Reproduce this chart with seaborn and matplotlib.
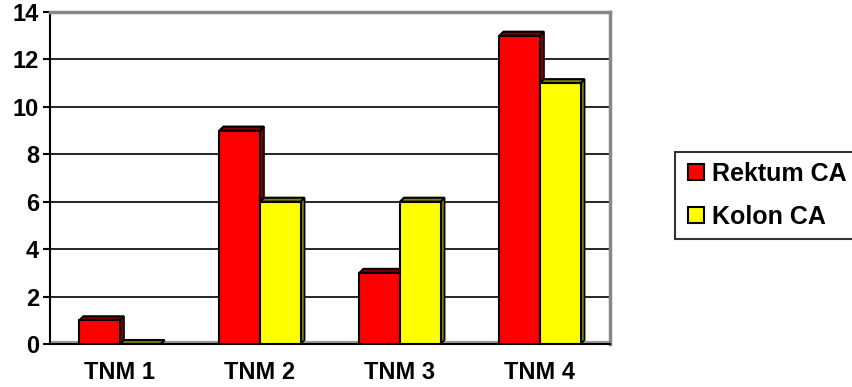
import numpy as np
import pandas as pd
import seaborn as sns
import matplotlib.pyplot as plt
from matplotlib.patches import Polygon
from matplotlib.lines import Line2D

categories = ['TNM 1', 'TNM 2', 'TNM 3', 'TNM 4']
series = ['Rektum CA', 'Kolon CA']
rektum = [1, 9, 3, 13]
kolon = [0, 6, 6, 11]

df = pd.DataFrame({
    'stage': categories * 2,
    'group': [series[0]] * 4 + [series[1]] * 4,
    'count': rektum + kolon,
})

sns.set_style('white')
plt.rcParams['font.family'] = ['Liberation Sans', 'DejaVu Sans']
plt.rcParams['font.weight'] = 'bold'
plt.rcParams['text.color'] = 'black'
plt.rcParams['xtick.color'] = 'black'
plt.rcParams['ytick.color'] = 'black'

face = {'Rektum CA': '#ff0000', 'Kolon CA': '#ffff00'}
side = {'Rektum CA': '#800000', 'Kolon CA': '#808000'}

fig = plt.figure(figsize=(8.53, 3.87), dpi=100)
ax = fig.add_axes([50/853, 1-344/387, 560/853, 332/387])

sns.barplot(data=df, x='stage', y='count', hue='group', palette=face, saturation=1,
            width=0.58, edgecolor='black', linewidth=1.5, legend=False,
            ax=ax, zorder=3)

ax.set_xlim(-0.5, 3.5)
ax.set_ylim(0, 14)
ax.set_yticks(np.arange(0, 15, 2))
ax.grid(axis='y', color='black', linewidth=1.2, zorder=0)
ax.axhline(0.06, color='#999999', linewidth=3, zorder=1)

# 3d depth of the bars
dx = 4 * 4.0 / 560
dy = 4 * 14.0 / 332
for cont, name in zip(ax.containers, series):
    for bar in cont:
        x0 = bar.get_x()
        x1 = x0 + bar.get_width()
        h = bar.get_height()
        ax.add_patch(Polygon([(x1, 0), (x1 + dx, dy), (x1 + dx, h + dy), (x1, h)],
                             closed=True, facecolor=side[name], edgecolor='black',
                             linewidth=1.2, zorder=2.5))
        ax.add_patch(Polygon([(x0, h), (x0 + dx, h + dy), (x1 + dx, h + dy), (x1, h)],
                             closed=True, facecolor=side[name], edgecolor='black',
                             linewidth=1.5, zorder=2.5))

for s in ['top', 'right']:
    ax.spines[s].set_color('#888888')
    ax.spines[s].set_linewidth(2.5)
for s in ['left', 'bottom']:
    ax.spines[s].set_color('black')
    ax.spines[s].set_linewidth(1.5)

ax.set_xticks([-0.5, 0.5, 1.5, 2.5, 3.5], minor=True)
ax.tick_params(axis='x', which='major', length=0, pad=12, labelsize=17)
ax.tick_params(axis='x', which='minor', length=6, width=1.5, color='black', direction='out')
ax.tick_params(axis='y', length=5, width=1.5, color='black', direction='out', left=True, labelsize=17, pad=3)
for lab in ax.get_xticklabels() + ax.get_yticklabels():
    lab.set_fontweight('bold')
ax.set_xlabel('')
ax.set_ylabel('')

handles = [Line2D([], [], marker='s', linestyle='none', markersize=11,
                  markerfacecolor=face[n], markeredgecolor='black', markeredgewidth=1.5)
           for n in series]
leg = fig.legend(handles, series, loc='upper left', bbox_to_anchor=(675/853, 1-152/387),
                 borderaxespad=0, frameon=True, fancybox=False, edgecolor='black',
                 handletextpad=0.25, borderpad=0.4, labelspacing=0.75, handlelength=0.85,
                 prop={'weight': 'bold', 'size': 18})
leg.get_frame().set_linewidth(1.5)

fig.savefig('out.png', dpi=100)
